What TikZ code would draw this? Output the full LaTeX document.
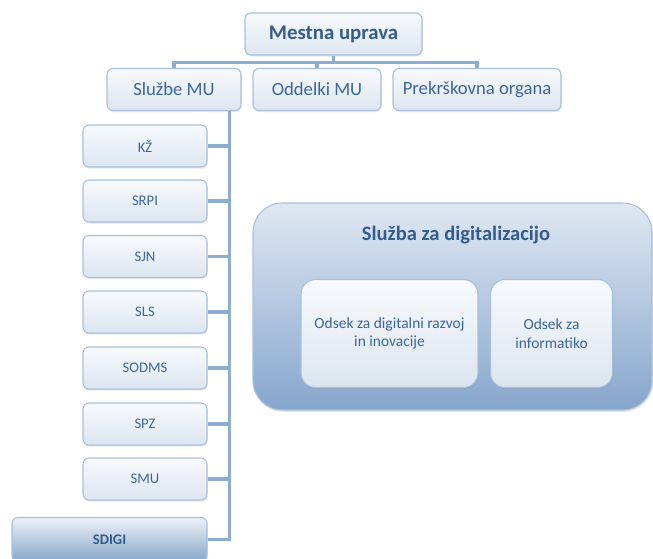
\documentclass[tikz,border=0pt]{standalone}
\usepackage{fontspec}
\setmainfont{Carlito}
\usetikzlibrary{shadows,positioning,calc}
\definecolor{bxborder}{HTML}{A9C0DC}
\definecolor{bxtop}{HTML}{F8FAFD}
\definecolor{bxbot}{HTML}{DCE5F0}
\definecolor{txt}{HTML}{3B679A}
\definecolor{ln}{HTML}{8CACD1}
\definecolor{bigtop}{HTML}{DFE8F2}
\definecolor{bigbot}{HTML}{86A6CC}
\tikzset{
  bx/.style={draw=bxborder, line width=0.8pt, rounded corners=4.5pt,
    top color=bxtop, bottom color=bxbot, text=txt, align=center,
    inner sep=0pt,
    drop shadow={opacity=0.18, shadow xshift=0.6pt, shadow yshift=-1.2pt}},
  toprow/.style={bx, minimum height=31.5pt, font=\fontsize{14}{16}\selectfont},
  child/.style={bx, minimum width=93pt, minimum height=31.5pt, font=\fontsize{11}{13}\selectfont},
  conn/.style={draw=ln, line width=2.4pt},
  big/.style={draw=bxborder, line width=0.8pt, rounded corners=22pt,
    top color=bigtop, bottom color=bigbot,
    drop shadow={opacity=0.2, shadow xshift=0.8pt, shadow yshift=-1.5pt}},
  inner/.style={bx, rounded corners=11pt, font=\fontsize{11.6}{14}\selectfont},
}
\begin{document}
\begin{tikzpicture}[x=0.75pt,y=-0.75pt]
\useasboundingbox (0,0) rectangle (653,558);
% top
\node[bx, minimum width=132.75pt, minimum height=31.5pt, font=\bfseries\fontsize{15.6}{17}\selectfont, text=txt!90!black] (m) at (333.5,34) {Mestna uprava};
\node[toprow, minimum width=100.5pt] (s) at (174,89.5) {Službe MU};
\node[toprow, minimum width=96pt] (o) at (317,89.5) {Oddelki MU};
\node[toprow, minimum width=126pt] (p) at (477,89.5) {Prekrškovna organa};
% children
\node[child] (c1) at (145,146) {KŽ};
\node[child] (c2) at (145,201) {SRPI};
\node[child] (c3) at (145,256.5) {SJN};
\node[child] (c4) at (145,312) {SLS};
\node[child] (c5) at (145,368) {SODMS};
\node[child] (c6) at (145,424) {SPZ};
\node[child] (c7) at (145,479) {SMU};
\node[bx, top color=bxtop!60!bxbot, bottom color=bigbot, minimum width=146.25pt, minimum height=33pt,
  font=\bfseries\fontsize{11}{13}\selectfont, text=txt!90!black] (c8) at (109.5,539.5) {SDIGI};
% connectors
\path[conn] (m.south) -- ++(0,7) -| (s.north);
\path[conn] (m.south) -- ++(0,7) -| (o.north);
\path[conn] (m.south) -- ++(0,7) -| (p.north);
\coordinate (t0) at ($(s.south east)+(-12,0)$);
\foreach \c in {c1,c2,c3,c4,c5,c6,c7,c8}{
  \path[conn] (t0) |- (\c.east);
}
% big box
\node[big, minimum width=299.25pt, minimum height=155.25pt] (d) at (452.5,306.5) {};
\node[text=txt!90!black, font=\bfseries\fontsize{15.4}{17}\selectfont] (dt) at (456,235) {Služba za digitalizacijo};
\node[inner, minimum width=132.75pt, minimum height=81pt] (d1) at (389.5,333.5) {Odsek za digitalni razvoj\\in inovacije};
\node[inner, minimum width=91.5pt, minimum height=81pt] (d2) at (551.5,333.5) {Odsek za\\informatiko};
\end{tikzpicture}
\end{document}
